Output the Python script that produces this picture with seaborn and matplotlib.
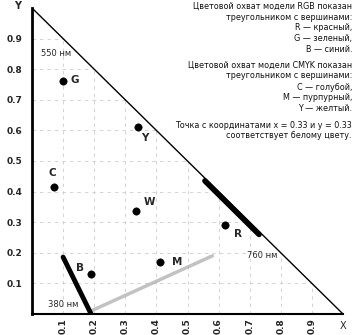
import matplotlib
matplotlib.use("Agg")
import matplotlib.pyplot as plt
import seaborn as sns
import pandas as pd
from matplotlib.patches import Polygon

# data
point_names = ["G", "Y", "C", "W", "B", "M", "R"]
point_x = [0.10, 0.34, 0.07, 0.334, 0.19, 0.41, 0.62]
point_y = [0.76, 0.61, 0.415, 0.337, 0.13, 0.17, 0.29]

locus_x = [0.0, 1.0]
locus_y = [1.0, 0.0]
blue_edge_x = [0.10, 0.19]
blue_edge_y = [0.186, 0.0]
red_edge_x = [0.556, 0.73]
red_edge_y = [0.435, 0.26]
purple_x = [0.19, 0.58]
purple_y = [0.01, 0.19]

tick_vals = [0.1, 0.2, 0.3, 0.4, 0.5, 0.6, 0.7, 0.8, 0.9]
tick_labels = ["0.1", "0.2", "0.3", "0.4", "0.5", "0.6", "0.7", "0.8", "0.9"]

wl_labels = ["550 нм", "380 нм", "760 нм"]
wl_x = [0.03, 0.05, 0.69]
wl_y = [0.85, 0.03, 0.19]

note_lines = [
    "Цветовой охват модели RGB показан",
    "треугольником с вершинами:",
    "R — красный,",
    "G — зеленый,",
    "B — синий.",
    "Цветовой охват модели CMYK показан",
    "треугольником с вершинами:",
    "C — голубой,",
    "M — пурпурный,",
    "Y — желтый.",
    "Точка с координатами x = 0.33 и y = 0.33",
    "соответствует белому цвету.",
]

sns.set_style("white")
plt.rcParams["font.family"] = ["DejaVu Sans"]

fig = plt.figure(figsize=(3.57, 3.35), dpi=100)
ax = fig.add_axes([32 / 357, 1 - 314 / 335, 311 / 357, 306 / 335])
ax.set_xlim(0, 1)
ax.set_ylim(0, 1)

tri = Polygon([[0, 0], [0, 1], [1, 0]], closed=True, transform=ax.transData,
              facecolor="none", edgecolor="none")
ax.add_patch(tri)

# grid
for v in tick_vals:
    l1, = ax.plot([v, v], [0, 1], color="#cccccc", lw=0.6, ls=(0, (4, 5)), zorder=1)
    l2, = ax.plot([0, 1], [v, v], color="#cccccc", lw=0.6, ls=(0, (4, 5)), zorder=1)
    l1.set_clip_path(tri)
    l2.set_clip_path(tri)

sns.lineplot(x=locus_x, y=locus_y, color="black", lw=1.0, ax=ax, zorder=3)
sns.lineplot(x=purple_x, y=purple_y, color="#a8a8a8", lw=2.5, alpha=0.7, ax=ax, zorder=3)
sns.lineplot(x=blue_edge_x, y=blue_edge_y, color="black", lw=3.5, ax=ax, zorder=4)
sns.lineplot(x=red_edge_x, y=red_edge_y, color="black", lw=4.0, ax=ax, zorder=4)

df = pd.DataFrame({"x": point_x, "y": point_y, "name": point_names})
sns.scatterplot(data=df, x="x", y="y", color="black", s=28, edgecolor="black",
                ax=ax, zorder=5, legend=False)

offsets = {"G": (0.025, 0.005, "left", "center"),
           "Y": (0.01, -0.035, "left", "center"),
           "C": (-0.005, 0.045, "center", "center"),
           "W": (0.025, 0.03, "left", "center"),
           "B": (-0.035, 0.02, "center", "center"),
           "M": (0.04, 0.0, "left", "center"),
           "R": (0.03, -0.03, "left", "center")}
for n, x, y in zip(point_names, point_x, point_y):
    dx, dy, ha, va = offsets[n]
    ax.text(x + dx, y + dy, n, fontsize=7.5, fontweight="bold", ha=ha, va=va)

for t, x, y in zip(wl_labels, wl_x, wl_y):
    ax.text(x, y, t, fontsize=6, ha="left", va="center")

ax.set_xticks(tick_vals)
ax.set_xticklabels(tick_labels, rotation=90, fontsize=6.5, fontweight="bold")
ax.set_yticks(tick_vals)
ax.set_yticklabels(tick_labels, fontsize=6.5, fontweight="bold")
ax.tick_params(axis="x", length=0, pad=3)
ax.tick_params(axis="y", length=0, pad=7)
ax.set_xlabel("")
ax.set_ylabel("")

for s in ["top", "right"]:
    ax.spines[s].set_visible(False)
ax.spines["left"].set_linewidth(2.0)
ax.spines["bottom"].set_linewidth(1.5)
ax.spines["left"].set_color("black")
ax.spines["bottom"].set_color("black")

fig.text(18 / 357, 1 - 6 / 335, "Y", fontsize=7, fontweight="bold", ha="center", va="center")
fig.text(343 / 357, 1 - 326 / 335, "X", fontsize=7, ha="center", va="center")

note_y = [6, 17, 28, 39, 50, 65, 76, 87, 98, 109, 125, 136]
for line, yy in zip(note_lines, note_y):
    fig.text(352 / 357, 1 - yy / 335, line, fontsize=5.8, ha="right", va="center",
             color="#111111")

fig.savefig("out.png", dpi=100)
